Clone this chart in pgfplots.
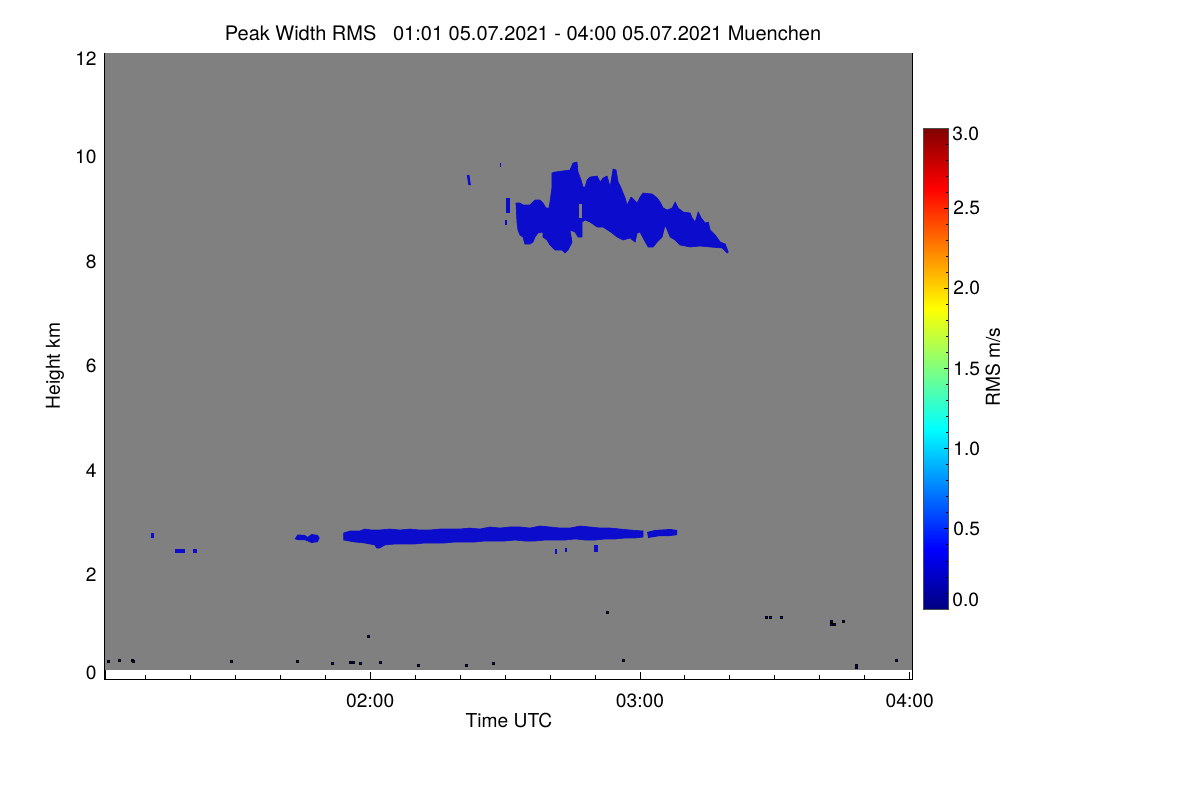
\documentclass[border=0pt]{standalone}
\usepackage{fontspec}
\setmainfont{TeX Gyre Heros}
\usepackage{pgfplots}
\pgfplotsset{compat=1.18}
\definecolor{bggray}{RGB}{128,128,128}
\definecolor{cloud}{RGB}{12,12,205}
\definecolor{speck}{RGB}{5,5,200}
\begin{document}
\fontsize{9.6pt}{11.5pt}\selectfont
\begin{tikzpicture}
\path[use as bounding box] (0,0) rectangle (600pt,400pt);
\begin{axis}[
  at={(52.5pt,60.5pt)}, anchor=south west,
  scale only axis, width=403.5pt, height=313pt,
  xmin=61, xmax=240.5, ymin=0, ymax=12,
  axis line style={line width=0.5pt, black},
  tick align=inside, tick style={black, line width=0.5pt},
  major tick length=3.5pt, minor tick length=2pt,
  xtick={120,180,240}, xticklabels={02:00,03:00,04:00},
  minor xtick={70,80,...,230},
  ytick={0,2,...,12}, yticklabels={,2,4,6,8,10,},
  minor ytick={0.5,1,...,11.5},
  xticklabel style={anchor=base, yshift=-14pt, inner sep=0pt},
  yticklabel style={anchor=east, xshift=-4pt, inner sep=0pt},
  title={Peak Width RMS\ \ \ 01:01 05.07.2021 - 04:00 05.07.2021 Muenchen},
  every axis title/.style={at={(axis description cs:0.518,1.032)}, anchor=center, inner sep=0pt, font=\fontsize{10pt}{12pt}\selectfont},
  xlabel={Time UTC}, ylabel={Height km},
  every axis x label/.style={at={(axis description cs:0.5006,-0.0655)}, anchor=center},
  every axis y label/.style={at={(axis description cs:-0.062,0.5)}, rotate=90, anchor=center},
  colorbar, colormap/jet, point meta min=0, point meta max=3,
  colorbar style={
    at={(parent axis.south east)}, anchor=south west, xshift=-3.03pt, yshift=35pt,
    scale only axis, width=12.5pt, height=240.5pt,
    ytick={0,0.5,...,3}, yticklabels={,0.5,1.0,1.5,2.0,2.5,},
    minor y tick num=4, ytick pos=right, tick align=inside,
    major tick length=2pt, minor tick length=1.2pt,
    tick style={black, line width=0.4pt},
    axis line style={line width=0.4pt, black!70},
    yticklabel style={anchor=west, xshift=2.5pt, inner sep=0pt},
  },
]
% gray background of the measured range
\addplot[fill=bggray, draw=none] coordinates {(61,0.1725) (240.5,0.1725) (240.5,12) (61,12)} -- cycle;
% upper cloud
\addplot[fill=cloud, draw=cloud, line width=0.3pt] coordinates {
(152.85,8.607) (152.63,8.760) (152.41,9.124) (153.30,9.124) (153.96,9.086) (155.52,9.086) (156.64,9.182) (157.75,9.182) (158.42,9.124) (159.09,9.028) (159.75,9.028) (159.98,9.143) (160.42,9.431) (160.42,9.699) (161.09,9.718) (162.65,9.737) (164.43,9.757) (165.10,9.891) (165.99,9.910) (166.22,9.718) (166.89,9.565) (167.33,9.431) (167.78,9.431) (168.22,9.565) (168.89,9.622) (170.45,9.642) (171.12,9.526) (171.79,9.603) (172.68,9.642) (173.35,9.431) (173.79,9.661) (174.01,9.776) (174.68,9.757) (175.13,9.526) (175.79,9.412) (176.69,9.220) (177.13,9.086) (178.02,9.239) (178.69,9.182) (179.36,9.124) (180.02,9.239) (180.69,9.316) (182.70,9.297) (183.81,9.220) (184.48,9.143) (185.15,9.028) (186.04,8.990) (187.15,9.028) (187.82,9.143) (188.49,9.028) (189.60,8.952) (191.16,8.933) (191.60,8.837) (192.27,8.760) (192.94,8.952) (193.61,8.837) (194.50,8.741) (195.17,8.760) (195.61,8.607) (196.73,8.511) (197.84,8.376) (198.96,8.338) (199.63,8.185)
(199.40,8.166) (198.29,8.262) (195.61,8.281) (193.38,8.300) (191.16,8.281) (188.93,8.319) (187.82,8.415) (186.71,8.472) (185.59,8.703) (184.92,8.472) (183.81,8.376) (182.92,8.281) (181.81,8.281) (180.69,8.453) (180.02,8.568) (179.36,8.549) (178.91,8.376) (177.80,8.453) (176.24,8.415) (174.91,8.472) (173.79,8.549) (171.79,8.664) (170.45,8.664) (168.89,8.760) (167.78,8.798) (167.11,8.760) (167.11,8.472) (166.22,8.472) (165.55,8.568) (164.43,8.607) (164.88,8.376) (163.99,8.223) (163.32,8.166) (162.65,8.223) (161.09,8.223) (159.98,8.319) (159.31,8.415) (158.42,8.472) (158.42,8.568) (157.31,8.549) (156.64,8.472) (156.19,8.376) (155.52,8.338) (154.41,8.338) (153.96,8.472) (153.30,8.511)
} -- cycle;
\addplot[fill=bggray, draw=none] coordinates {(166.45,8.83) (167.1,8.83) (167.1,9.10) (166.45,9.10)} -- cycle;
\addplot[fill=cloud, draw=none] coordinates {(150.18,8.933) (151.07,8.933) (151.07,9.220) (150.18,9.220)} -- cycle;
\addplot[fill=cloud, draw=none] coordinates {(149.96,8.703) (150.40,8.703) (150.40,8.798) (149.96,8.798)} -- cycle;
\addplot[fill=cloud, draw=none] coordinates {(141.49,9.661) (142.05,9.661) (142.38,9.469) (141.82,9.469)} -- cycle;
\addplot[fill=cloud, draw=none] coordinates {(148.84,9.814) (149.18,9.814) (149.18,9.891) (148.84,9.891)} -- cycle;
% lower band
\addplot[fill=cloud, draw=cloud, line width=0.3pt] coordinates {
(114.10,2.799) (115.44,2.837) (117.66,2.837) (118.78,2.875) (120.33,2.856) (122.12,2.856) (124.34,2.875) (126.57,2.856) (128.80,2.875) (131.02,2.856) (133.25,2.856) (135.48,2.875) (137.71,2.875) (139.93,2.875) (142.16,2.894) (144.39,2.875) (146.62,2.914) (148.84,2.894) (151.07,2.914) (153.30,2.914) (155.52,2.894) (157.75,2.933) (159.98,2.914) (162.21,2.894) (164.43,2.894) (166.66,2.933) (168.89,2.914) (171.12,2.894) (173.35,2.894) (175.58,2.875) (177.80,2.856) (180.69,2.837)
(180.69,2.722) (178.91,2.703) (176.69,2.703) (174.46,2.684) (172.24,2.684) (170.01,2.664) (167.78,2.664) (165.55,2.684) (163.32,2.664) (161.09,2.664) (158.87,2.664) (156.64,2.645) (154.41,2.645) (152.19,2.664) (149.96,2.645) (147.73,2.645) (145.50,2.645) (143.27,2.626) (141.05,2.626) (138.82,2.626) (136.59,2.607) (134.37,2.607) (132.14,2.607) (129.91,2.588) (127.68,2.588) (125.46,2.588) (123.23,2.569) (122.12,2.511) (121.45,2.511) (121.00,2.569) (118.78,2.607) (116.55,2.626) (114.10,2.664)
} -- cycle;
\addplot[fill=cloud, draw=none] coordinates {(181.58,2.818) (183.36,2.856) (186.71,2.875) (188.27,2.856) (188.27,2.760) (186.71,2.741) (184.48,2.741) (181.81,2.703)} -- cycle;
\addplot[fill=cloud, draw=none] coordinates {(103.18,2.684) (103.85,2.770) (105.41,2.760) (106.08,2.722) (106.97,2.779) (108.31,2.760) (108.75,2.703) (108.31,2.626) (106.97,2.607) (105.41,2.664) (103.85,2.664)} -- cycle;
\addplot[fill=cloud, draw=none] coordinates {(71.34,2.70) (72.0,2.70) (72.0,2.80) (71.34,2.80)} -- cycle;
\addplot[fill=cloud, draw=none] coordinates {(76.68,2.42) (78.90,2.42) (78.90,2.50) (76.68,2.50)} -- cycle;
\addplot[fill=cloud, draw=none] coordinates {(80.47,2.42) (81.36,2.42) (81.36,2.50) (80.47,2.50)} -- cycle;
\addplot[fill=cloud, draw=none] coordinates {(161.2,2.40) (161.5,2.40) (161.5,2.49) (161.2,2.49)} -- cycle;
\addplot[fill=cloud, draw=none] coordinates {(163.4,2.43) (163.7,2.43) (163.7,2.51) (163.4,2.51)} -- cycle;
\addplot[fill=cloud, draw=none] coordinates {(169.78,2.43) (170.67,2.43) (170.67,2.57) (169.78,2.57)} -- cycle;
% isolated specks
\addplot[only marks, mark=square*, mark size=0.5pt, mark options={draw=none, fill=speck}] coordinates {
(61.76,0.345) (64.21,0.364) (67.11,0.364) (67.4,0.345) (89.16,0.345) (103.85,0.345) (111.65,0.307) (115.66,0.326) (116.33,0.326) (117.89,0.307) (122.34,0.326) (119.67,0.824) (130.80,0.268) (141.49,0.268) (147.28,0.307) (172.68,1.284) (176.24,0.364) (208.07,1.188) (208.96,1.188) (211.42,1.188) (222.56,1.112) (222.56,1.054) (223.23,1.054) (225.23,1.112) (228.13,0.22) (228.13,0.27) (237.04,0.364)
};
\end{axis}
\node[anchor=east, inner sep=0pt] at (48.5pt,63.5pt) {0};
\node[anchor=east, inner sep=0pt] at (48.5pt,370.5pt) {12};
\node[anchor=west, inner sep=0pt] at (476pt,333pt) {3.0};
\node[anchor=west, inner sep=0pt] at (476pt,100pt) {0.0};
\node[rotate=90, anchor=center] at (496.5pt,216.5pt) {RMS m/s};
\end{tikzpicture}
\end{document}
